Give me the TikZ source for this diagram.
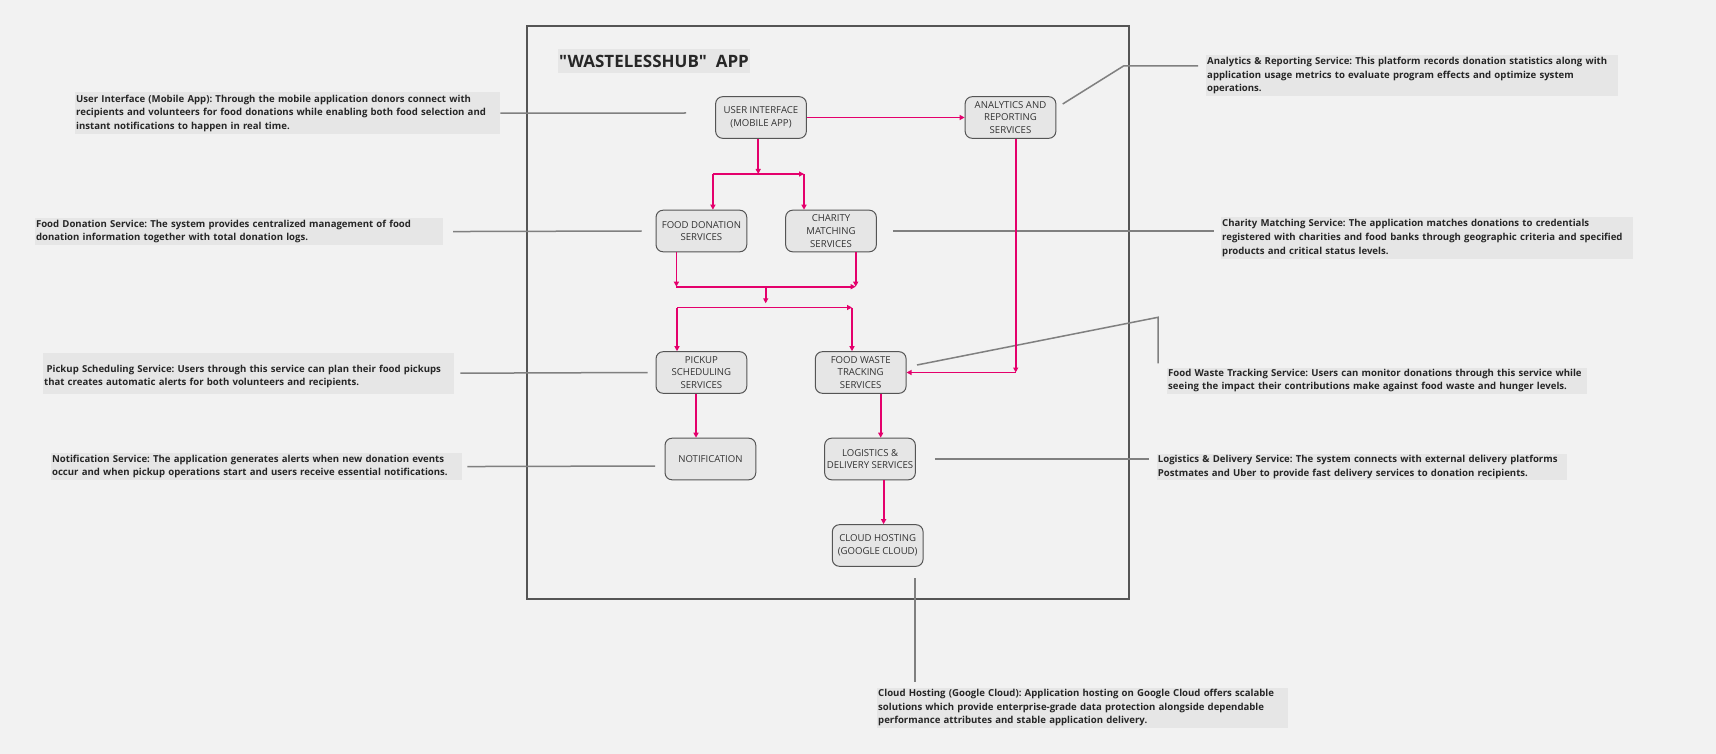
\documentclass[tikz,border=0pt]{standalone}
\usepackage{fontspec}
\setmainfont{Open Sans}[Ligatures=TeXOff]
\usetikzlibrary{arrows.meta}
\definecolor{wpink}{RGB}{228,0,108}
\definecolor{wbg}{RGB}{242,242,242}
\definecolor{wbox}{RGB}{230,230,230}
\definecolor{wlead}{RGB}{128,128,128}
\definecolor{wedge}{RGB}{85,85,85}
\frenchspacing
\begin{document}
\begin{tikzpicture}[x=1pt,y=-1pt,
    svc/.style={draw=wedge,line width=1pt,fill=wbox,rounded corners=7pt,
      minimum width=90.7pt,minimum height=41.6pt,inner sep=1pt,align=center,
      text=black!80,font=\fontsize{9.6}{12.7}\selectfont},
    note/.style={fill=wbox,anchor=north west,inner xsep=1pt,inner ysep=0pt,
      align=left,text=black!85,font=\fontsize{9.6}{13.7}\selectfont\bfseries},
    flow/.style={draw=wpink,line width=1.8pt,-{Triangle[length=5pt,width=5pt]}},
    lead/.style={draw=wlead,line width=1.5pt}]
  \fill[wbg] (0,0) rectangle (1716,754);
  \draw[wedge,line width=1.1pt] (527,26) rectangle (1129,599);
  \node[fill=wbox,anchor=north west,minimum width=189pt,minimum height=24pt,
    inner xsep=1pt,text=black!85,font=\fontsize{17}{18}\selectfont\bfseries]
    (title) at (558,49) {"WASTELESSHUB"\ \ APP};

  \node[svc] (ui) at (761,117.5) {USER INTERFACE\\(MOBILE APP)};
  \node[svc] (an) at (1010.5,117.5) {ANALYTICS AND\\REPORTING\\SERVICES};
  \node[svc] (fd) at (701.4,231) {FOOD DONATION\\SERVICES};
  \node[svc] (cm) at (831,231) {CHARITY\\MATCHING\\SERVICES};
  \node[svc] (pk) at (701.4,372.5) {PICKUP\\SCHEDULING\\SERVICES};
  \node[svc] (fw) at (860.7,372.5) {FOOD WASTE\\TRACKING\\SERVICES};
  \node[svc] (nt) at (710.4,459) {NOTIFICATION};
  \node[svc] (lg) at (870,459) {LOGISTICS \&\\DELIVERY SERVICES};
  \node[svc] (cl) at (877.7,545.5) {CLOUD HOSTING\\(GOOGLE CLOUD)};

  \node[note,text width=423pt,minimum height=42pt] (uinote) at (75,92)
    {User Interface (Mobile App): Through the mobile application donors connect with\\
     recipients and volunteers for food donations while enabling both food selection and\\
     instant notifications to happen in real time.};
  \node[note,text width=406pt,minimum height=26.7pt] (fdnote) at (34.8,218)
    {Food Donation Service: The system provides centralized management of food\\
     donation information together with total donation logs.};
  \node[note,text width=409pt,minimum height=40.6pt] (pknote) at (42.9,352.7)
    {\mbox{}\\
     \hspace*{2.5pt}Pickup Scheduling Service: Users through this service can plan their food pickups\\
     that creates automatic alerts for both volunteers and recipients.};
  \node[note,text width=409pt,minimum height=27.3pt] (ntnote) at (50.9,452.7)
    {Notification Service: The application generates alerts when new donation events\\
     occur and when pickup operations start and users receive essential notifications.};
  \node[note,text width=410pt,minimum height=41pt] (annote) at (1206,55)
    {Analytics \& Reporting Service: This platform records donation statistics along with\\
     application usage metrics to evaluate program effects and optimize system\\
     operations.};
  \node[note,text width=410pt,minimum height=41pt] (cmnote) at (1221,217.3)
    {Charity Matching Service: The application matches donations to credentials\\
     registered with charities and food banks through geographic criteria and specified\\
     products and critical status levels.};
  \node[note,text width=418pt,minimum height=26pt] (fwnote) at (1167,367.3)
    {Food Waste Tracking Service: Users can monitor donations through this service while\\
     seeing the impact their contributions make against food waste and hunger levels.};
  \node[note,text width=408pt,minimum height=26.7pt] (lgnote) at (1156.7,453.3)
    {Logistics \& Delivery Service: The system connects with external delivery platforms\\
     Postmates and Uber to provide fast delivery services to donation recipients.};
  \node[note,text width=409pt,minimum height=40.4pt] (clnote) at (877,687.3)
    {Cloud Hosting (Google Cloud): Application hosting on Google Cloud offers scalable\\
     solutions which provide enterprise-grade data protection alongside dependable\\
     performance attributes and stable application delivery.};

  \coordinate (uiend) at (686,113);
  \coordinate (ntend) at (655,466);
  \coordinate (anstart) at (1062.7,104);
  \coordinate (anbend) at (1123.5,66);
  \coordinate (anend) at (1198,66);
  \coordinate (cmend) at (1213.5,231);
  \coordinate (fwstart) at (917,365);
  \coordinate (fwbend) at (1158,317.3);
  \coordinate (fwend) at (1158,363.3);
  \coordinate (lgend) at (1148.5,459);
  \coordinate (clstart) at (915,578.3);
  \coordinate (clend) at (915,681.7);
  \draw[lead] (uinote.east) -- (uiend);
  \draw[lead] ([xshift=10pt]fdnote.east) -- ([xshift=-14pt]fd.west);
  \draw[lead] ([xshift=6pt]pknote.east) -- ([xshift=-8pt]pk.west);
  \draw[lead] ([xshift=5pt]ntnote.east) -- (ntend);
  \draw[lead] (anstart) -- (anbend) -- (anend);
  \draw[lead] ([xshift=16pt]cm.east) -- (cmend);
  \draw[lead] (fwstart) -- (fwbend) -- (fwend);
  \draw[lead] ([xshift=19pt]lg.east) -- (lgend);
  \draw[lead] (clstart) -- (clend);

  \coordinate (topbus) at (758.2,174);
  \coordinate (topl) at (712.9,174);
  \coordinate (topr) at (804,174);
  \coordinate (midl) at (676.4,286.7);
  \coordinate (midr) at (855.7,286.7);
  \coordinate (midc) at (765.7,286.7);
  \coordinate (lowc) at (765.7,303.3);
  \coordinate (lowl) at (677,307.5);
  \coordinate (lowr) at (852,307.5);
  \coordinate (pkdown) at (696,0);
  \coordinate (fwdown) at (880.7,0);
  \coordinate (lgdown) at (883.6,0);
  \coordinate (ancorner) at (1015.7,372.5);
  \draw[flow] (ui) -- (an);
  \draw[flow] (ui.south -| topbus) -- (topbus);
  \draw[flow] (topl) -- (topr);
  \draw[flow] (topl) -- (topl |- fd.north);
  \draw[flow] (topr) -- (topr |- cm.north);
  \draw[flow] (fd.south -| midl) -- (midl);
  \draw[flow] (cm.south -| midr) -- (midr);
  \draw[flow] (midl) -- (midr);
  \draw[flow] (midc) -- (lowc);
  \draw[flow] (lowl) -- (lowr);
  \draw[flow] (lowl) -- (lowl |- pk.north);
  \draw[flow] (lowr) -- (lowr |- fw.north);
  \draw[flow] (pk.south -| pkdown) -- (nt.north -| pkdown);
  \draw[flow] (fw.south -| fwdown) -- (lg.north -| fwdown);
  \draw[flow] (lg.south -| lgdown) -- (cl.north -| lgdown);
  \draw[flow] (an.south -| ancorner) -- (ancorner);
  \draw[flow] (ancorner) -- (fw.east);
\end{tikzpicture}
\end{document}
